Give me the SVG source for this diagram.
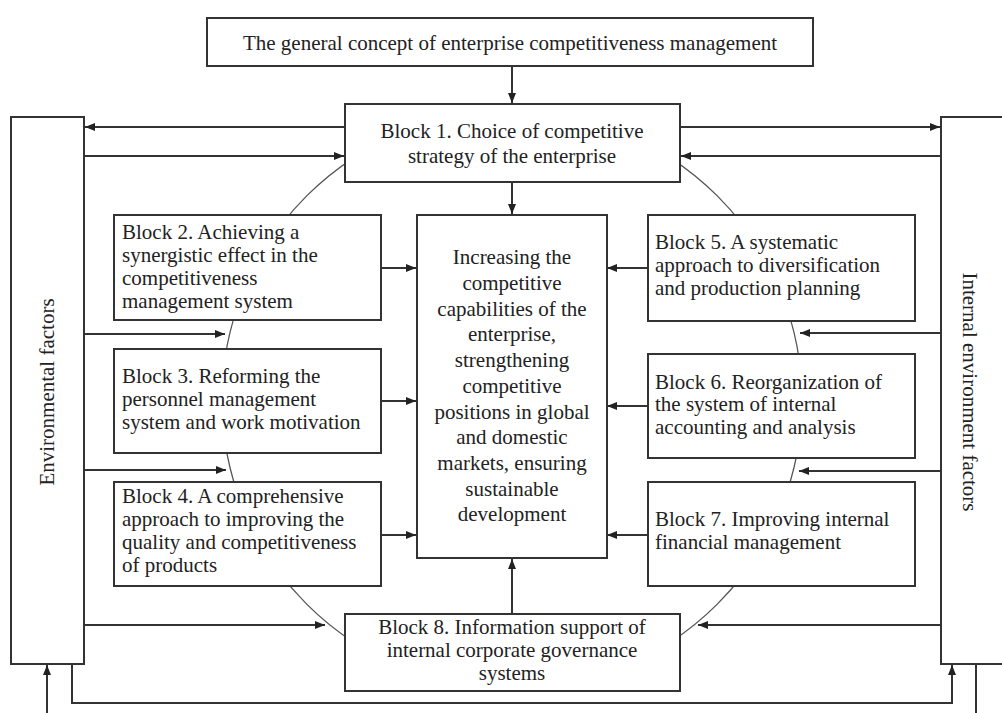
<svg xmlns="http://www.w3.org/2000/svg" width="1002" height="713" viewBox="0 0 1002 713">
<defs>
<marker id="ah" viewBox="0 0 10 8" refX="10" refY="4" markerWidth="10" markerHeight="8" markerUnits="userSpaceOnUse" orient="auto">
<path d="M0,0 L10,4 L0,8 Z" fill="#222"/>
</marker>
</defs>
<style>
.box{fill:#fff;stroke:#333;stroke-width:2}
.ln{fill:none;stroke:#333;stroke-width:2}
.arc{fill:none;stroke:#555;stroke-width:1.3}
.t{font-family:"Liberation Serif","Times New Roman",serif;font-size:21px;fill:#222}
.c{text-anchor:middle}
</style>
<rect width="1002" height="713" fill="#fff"/>
<g id="connectors">
<ellipse class="arc" cx="512" cy="400" rx="290" ry="289"/>
<line class="ln" x1="512" y1="66" x2="512" y2="103" marker-end="url(#ah)"/>
<line class="ln" x1="345" y1="127" x2="85" y2="127" marker-end="url(#ah)"/>
<line class="ln" x1="84" y1="156" x2="344" y2="156" marker-end="url(#ah)"/>
<line class="ln" x1="680" y1="127" x2="940" y2="127" marker-end="url(#ah)"/>
<line class="ln" x1="941" y1="156" x2="681" y2="156" marker-end="url(#ah)"/>
<line class="ln" x1="512" y1="182" x2="512" y2="214" marker-end="url(#ah)"/>
<line class="ln" x1="381" y1="268" x2="416" y2="268" marker-end="url(#ah)"/>
<line class="ln" x1="381" y1="401" x2="416" y2="401" marker-end="url(#ah)"/>
<line class="ln" x1="381" y1="535" x2="416" y2="535" marker-end="url(#ah)"/>
<line class="ln" x1="648" y1="268" x2="607" y2="268" marker-end="url(#ah)"/>
<line class="ln" x1="648" y1="406" x2="607" y2="406" marker-end="url(#ah)"/>
<line class="ln" x1="648" y1="535" x2="607" y2="535" marker-end="url(#ah)"/>
<line class="ln" x1="512" y1="614" x2="512" y2="559" marker-end="url(#ah)"/>
<line class="ln" x1="84" y1="334" x2="225" y2="334" marker-end="url(#ah)"/>
<line class="ln" x1="84" y1="470" x2="226" y2="470" marker-end="url(#ah)"/>
<line class="ln" x1="84" y1="625" x2="325" y2="625" marker-end="url(#ah)"/>
<line class="ln" x1="941" y1="333" x2="800" y2="333" marker-end="url(#ah)"/>
<line class="ln" x1="941" y1="471" x2="799" y2="471" marker-end="url(#ah)"/>
<line class="ln" x1="941" y1="625" x2="698" y2="625" marker-end="url(#ah)"/>
<polyline class="ln" points="72,664 72,703 952,703 952,665" marker-end="url(#ah)"/>
<line class="ln" x1="47" y1="713" x2="47" y2="665" marker-end="url(#ah)"/>
<line class="ln" x1="976" y1="664" x2="976" y2="713"/>
</g>
<g id="top">
<rect class="box" x="207" y="18" width="606" height="48"/>
<text class="t c" x="510" y="50">The general concept of enterprise competitiveness management</text>
</g>
<g id="env">
<rect class="box" x="11" y="117" width="73" height="547"/>
<text class="t c" transform="translate(54,392) rotate(-90)">Environmental factors</text>
</g>
<g id="internal">
<rect class="box" x="941" y="117" width="80" height="547"/>
<text class="t c" transform="translate(963,392) rotate(90)">Internal environment factors</text>
</g>
<g id="block1">
<rect class="box" x="345" y="104" width="335" height="78"/>
<text class="t c" x="512" y="138">Block 1. Choice of competitive</text>
<text class="t c" x="512" y="163">strategy of the enterprise</text>
</g>
<g id="center">
<rect class="box" x="417" y="215" width="190" height="343"/>
<text class="t c" x="512" y="264">Increasing the</text>
<text class="t c" x="512" y="290">competitive</text>
<text class="t c" x="512" y="316">capabilities of the</text>
<text class="t c" x="512" y="341">enterprise,</text>
<text class="t c" x="512" y="367">strengthening</text>
<text class="t c" x="512" y="393">competitive</text>
<text class="t c" x="512" y="419">positions in global</text>
<text class="t c" x="512" y="444">and domestic</text>
<text class="t c" x="512" y="470">markets, ensuring</text>
<text class="t c" x="512" y="496">sustainable</text>
<text class="t c" x="512" y="521">development</text>
</g>
<g id="block2">
<rect class="box" x="114" y="215" width="267" height="105"/>
<text class="t" x="122" y="239">Block 2. Achieving a</text>
<text class="t" x="122" y="262">synergistic effect in the</text>
<text class="t" x="122" y="285">competitiveness</text>
<text class="t" x="122" y="308">management system</text>
</g>
<g id="block3">
<rect class="box" x="114" y="349" width="267" height="104"/>
<text class="t" x="122" y="383">Block 3. Reforming the</text>
<text class="t" x="122" y="406">personnel management</text>
<text class="t" x="122" y="429">system and work motivation</text>
</g>
<g id="block4">
<rect class="box" x="114" y="482" width="267" height="104"/>
<text class="t" x="122" y="503">Block 4. A comprehensive</text>
<text class="t" x="122" y="526">approach to improving the</text>
<text class="t" x="122" y="549">quality and competitiveness</text>
<text class="t" x="122" y="572">of products</text>
</g>
<g id="block5">
<rect class="box" x="648" y="215" width="267" height="106"/>
<text class="t" x="655" y="249">Block 5. A systematic</text>
<text class="t" x="655" y="272">approach to diversification</text>
<text class="t" x="655" y="295">and production planning</text>
</g>
<g id="block6">
<rect class="box" x="648" y="354" width="267" height="104"/>
<text class="t" x="655" y="389">Block 6. Reorganization of</text>
<text class="t" x="655" y="411">the system of internal</text>
<text class="t" x="655" y="434">accounting and analysis</text>
</g>
<g id="block7">
<rect class="box" x="648" y="482" width="267" height="104"/>
<text class="t" x="655" y="526">Block 7. Improving internal</text>
<text class="t" x="655" y="549">financial management</text>
</g>
<g id="block8">
<rect class="box" x="345" y="614" width="335" height="77"/>
<text class="t c" x="512" y="634">Block 8. Information support of</text>
<text class="t c" x="512" y="657">internal corporate governance</text>
<text class="t c" x="512" y="680">systems</text>
</g>
</svg>
